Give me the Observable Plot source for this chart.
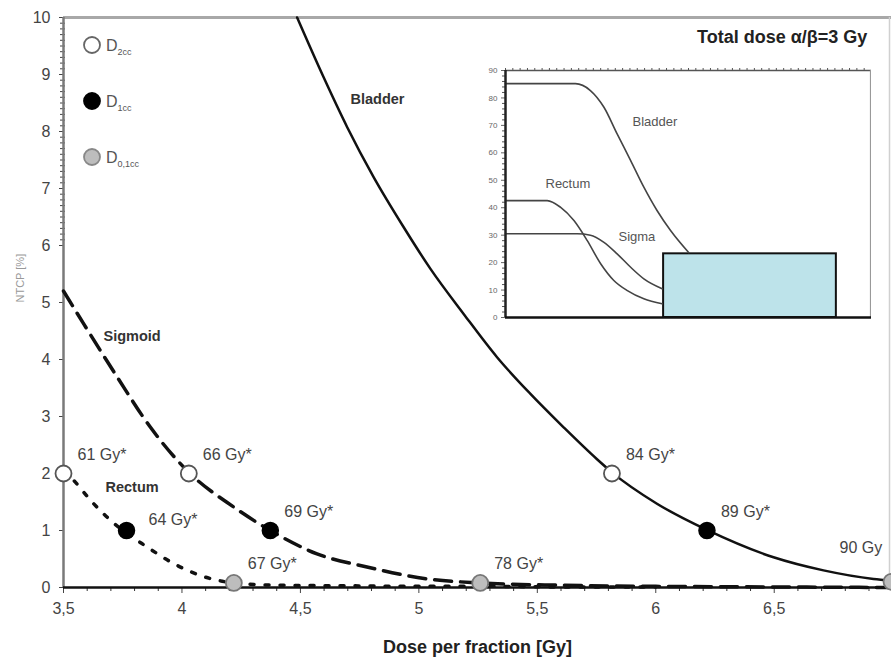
<!DOCTYPE html>
<html>
<head>
<meta charset="utf-8">
<script src="https://cdn.jsdelivr.net/npm/d3@7"></script>
<script src="https://cdn.jsdelivr.net/npm/@observablehq/plot@0.6"></script>
<style>
  html, body { margin: 0; padding: 0; background: white; }
  #wrap { position: relative; width: 891px; height: 662px; overflow: hidden; font-family: "Liberation Sans", Arial, sans-serif; }
  #inset { position: absolute; left: 480px; top: 62px; }
  #legend { position: absolute; left: 0; top: 0; }
  #title { position: absolute; left: 697px; top: 27px; font-weight: bold; font-size: 18px; color: #222; white-space: nowrap; }
</style>
</head>
<body>
<div id="wrap">
  <div id="main"></div>
  <div id="inset"></div>
  <div id="title">Total dose α/β=3 Gy</div>
  <svg id="legend" width="200" height="190"></svg>
</div>
<script>
// ---------- main chart data ----------
const bladderX = [4.486, 4.598, 4.697, 4.809, 4.936, 5.049, 5.189, 5.330, 5.470, 5.611, 5.752, 5.815, 6.005, 6.216, 6.497, 6.708, 6.919, 6.995];
const bladderY = [10.0, 8.95, 8.08, 7.2, 6.32, 5.59, 4.80, 4.04, 3.40, 2.81, 2.25, 2.02, 1.47, 1.01, 0.53, 0.30, 0.15, 0.12];

const sigmoidX = [3.5, 3.586, 3.727, 3.867, 4.029, 4.219, 4.373, 4.570, 4.781, 5.035, 5.259, 5.6, 6.0, 6.5, 6.995];
const sigmoidY = [5.2, 4.62, 3.69, 2.81, 2.02, 1.41, 1.0, 0.59, 0.36, 0.15, 0.08, 0.04, 0.02, 0.01, 0.0];

const rectumX = [3.5, 3.543, 3.614, 3.698, 3.853, 3.965, 4.078, 4.219, 4.4, 4.7, 5.0, 5.3, 5.6, 6.0];
const rectumY = [2.05, 1.88, 1.53, 1.18, 0.71, 0.42, 0.21, 0.08, 0.04, 0.03, 0.02, 0.02, 0.01, 0.01];

// marker points: organ, dose-volume type, x, y, label
const pointOrgan = ["Rectum", "Rectum", "Rectum", "Sigmoid", "Sigmoid", "Sigmoid", "Bladder", "Bladder", "Bladder"];
const pointType  = ["2cc", "1cc", "0,1cc", "2cc", "1cc", "0,1cc", "2cc", "1cc", "0,1cc"];
const pointX     = [3.5, 3.766, 4.219, 4.029, 4.373, 5.259, 5.815, 6.216, 6.995];
const pointY     = [2.0, 1.0, 0.08, 2.0, 1.0, 0.08, 2.0, 1.0, 0.1];
const pointLabel = ["61 Gy*", "64 Gy*", "67 Gy*", "66 Gy*", "69 Gy*", "78 Gy*", "84 Gy*", "89 Gy*", "90 Gy"];

const xTicks = [3.5, 4, 4.5, 5, 5.5, 6, 6.5];
const yTicks = [0, 1, 2, 3, 4, 5, 6, 7, 8, 9, 10];
const legendTypes = ["2cc", "1cc", "0,1cc"];
const xLabel = "Dose per fraction [Gy]";
const yLabel = "NTCP [%]";

// ---------- inset data ----------
const inBladderX = [0, 19.1, 23.2, 26.9, 30.5, 34.2, 37.8, 41.4, 45.1, 50.1];
const inBladderY = [85.2, 85.2, 82.7, 76.6, 66.9, 57.2, 47.5, 39.0, 31.7, 23.6];
const inRectumX = [0, 11.4, 15.0, 18.7, 22.3, 26.0, 29.6, 33.3, 37.8, 42.8];
const inRectumY = [42.6, 42.6, 40.2, 35.3, 28.1, 19.6, 13.5, 9.8, 6.8, 5.0];
const inSigmaX = [0, 19.6, 23.2, 26.9, 30.5, 34.2, 37.8, 42.8];
const inSigmaY = [30.5, 30.5, 30.0, 27.4, 23.2, 18.3, 14.1, 10.5];
const inRectX1 = [43.2], inRectX2 = [90.4], inRectY = [23.2];
const inYTicks = [0, 10, 20, 30, 40, 50, 60, 70, 80, 90];

// ---------- build ----------
const zip = (xs, ys) => xs.map((x, i) => ({x, y: ys[i]}));
const bladder = zip(bladderX, bladderY);
const sigmoid = zip(sigmoidX, sigmoidY);
const rectum = zip(rectumX, rectumY);
const points = pointX.map((x, i) => ({organ: pointOrgan[i], type: pointType[i], x, y: pointY[i], label: pointLabel[i]}));
const fmt = d => String(d).replace(".", ",");
const xMinor = d3.range(35, 70).map(d => d / 10).filter(d => !xTicks.includes(d));
const yMinor = d3.range(60, 100).map(d => d / 10).filter(d => !Number.isInteger(d));

const normalLabels = points.filter(d => d.label !== "64 Gy*" && d.label !== "90 Gy");

const main = Plot.plot({
  width: 891, height: 662,
  marginLeft: 63, marginRight: 0, marginTop: 17, marginBottom: 75,
  x: {domain: [3.5, 6.995]},
  y: {domain: [0, 10]},
  style: {fontFamily: "'Liberation Sans', Arial, sans-serif", background: "white"},
  marks: [
    Plot.ruleY([10], {stroke: "#a8a8a8", strokeWidth: 3}),
    Plot.ruleX([6.995], {stroke: "#d0d0d0", strokeWidth: 1.5, dx: -2}),
    Plot.axisX(xMinor, {tickSize: 4, tickFormat: () => "", label: null, stroke: "#333"}),
    Plot.axisX(xTicks, {tickSize: 6, tickPadding: 9, tickFormat: fmt, label: null, fontSize: 16, color: "#444"}),
    Plot.axisY(yMinor, {tickSize: 5, tickFormat: () => "", label: null, stroke: "#444", dx: 2}),
    Plot.axisY(yTicks, {tickSize: 4, tickPadding: 9, tickFormat: fmt, label: null, fontSize: 16, color: "#444"}),
    Plot.ruleX([3.5], {stroke: "#7a7a7a", strokeWidth: 2.5}),
    Plot.ruleY([0], {stroke: "#111", strokeWidth: 2.5}),
    Plot.line(rectum, {x: "x", y: "y", curve: "monotone-x", stroke: "#111", strokeWidth: 3.5, strokeDasharray: "4,11"}),
    Plot.line(sigmoid, {x: "x", y: "y", curve: "monotone-x", stroke: "#111", strokeWidth: 3.5, strokeDasharray: "17,9"}),
    Plot.line(bladder, {x: "x", y: "y", curve: "monotone-x", stroke: "#111", strokeWidth: 2.5}),
    Plot.dot(points.filter(d => d.type === "2cc"), {x: "x", y: "y", r: 8, fill: "white", stroke: "#555", strokeWidth: 1.8}),
    Plot.dot(points.filter(d => d.type === "1cc"), {x: "x", y: "y", r: 8, fill: "#000", stroke: "#000"}),
    Plot.dot(points.filter(d => d.type === "0,1cc"), {x: "x", y: "y", r: 8, fill: "#bdbdbd", stroke: "#777", strokeWidth: 1.8}),
    Plot.text(normalLabels, {x: "x", y: "y", text: "label", dx: 14, dy: -19, textAnchor: "start", fontSize: 16, fill: "#444"}),
    Plot.text(points.filter(d => d.label === "64 Gy*"), {x: "x", y: "y", text: "label", dx: 22, dy: -11, textAnchor: "start", fontSize: 16, fill: "#444"}),
    Plot.text(points.filter(d => d.label === "90 Gy"), {x: "x", y: "y", text: "label", dx: -52, dy: -34, textAnchor: "start", fontSize: 16, fill: "#444"}),
    Plot.text(["Bladder"], {frameAnchor: "top-left", dx: 287, dy: 76, textAnchor: "start", fontWeight: "bold", fontSize: 14.5, fill: "#333"}),
    Plot.text(["Sigmoid"], {frameAnchor: "top-left", dx: 40, dy: 313, textAnchor: "start", fontWeight: "bold", fontSize: 14.5, fill: "#333"}),
    Plot.text(["Rectum"], {frameAnchor: "top-left", dx: 42, dy: 464, textAnchor: "start", fontWeight: "bold", fontSize: 14.5, fill: "#333"}),
    Plot.text([xLabel], {frameAnchor: "bottom", dy: 65, fontWeight: "bold", fontSize: 18, fill: "#222"}),
    Plot.text([yLabel], {frameAnchor: "left", dx: -43, rotate: -90, fontSize: 11, fill: "#999"})
  ]
});
document.getElementById("main").appendChild(main);

// ---------- inset ----------
const inBladder = zip(inBladderX, inBladderY);
const inRectum = zip(inRectumX, inRectumY);
const inSigma = zip(inSigmaX, inSigmaY);
const inRect = inRectX1.map((x1, i) => ({x1, x2: inRectX2[i], y: inRectY[i]}));
const inMinor = d3.range(0, 91, 2).filter(d => d % 10 !== 0);
const inTop = d3.range(0, 101, 2);

const inset = Plot.plot({
  width: 391, height: 263,
  marginLeft: 25, marginRight: 0, marginTop: 8, marginBottom: 8,
  x: {domain: [0, 100]},
  y: {domain: [0, 90]},
  style: {fontFamily: "'Liberation Sans', Arial, sans-serif", background: "white"},
  marks: [
    Plot.rectY(inRect, {x1: "x1", x2: "x2", y1: 0, y2: "y", fill: "#bde3ea", stroke: "#111", strokeWidth: 2}),
    Plot.line(inBladder, {x: "x", y: "y", curve: "monotone-x", stroke: "#444", strokeWidth: 1.6}),
    Plot.line(inRectum, {x: "x", y: "y", curve: "monotone-x", stroke: "#444", strokeWidth: 1.6}),
    Plot.line(inSigma, {x: "x", y: "y", curve: "monotone-x", stroke: "#444", strokeWidth: 1.6}),
    Plot.ruleY([90], {stroke: "#555", strokeWidth: 1.5}),
    Plot.axisX(inTop, {anchor: "top", tickSize: 3, tickFormat: () => "", label: null, stroke: "#555"}),
    Plot.ruleX([100], {stroke: "#999", strokeWidth: 1.2, dx: -1}),
    Plot.axisY(inMinor, {tickSize: 3, tickFormat: () => "", label: null, stroke: "#555"}),
    Plot.axisY(inYTicks, {tickSize: 4, tickPadding: 4, label: null, fontSize: 8, color: "#666"}),
    Plot.ruleX([0], {stroke: "#222", strokeWidth: 2.5}),
    Plot.ruleY([0], {stroke: "#111", strokeWidth: 2.5}),
    Plot.text(["Bladder"], {frameAnchor: "top-left", dx: 127, dy: 46, textAnchor: "start", fontSize: 13, fill: "#555"}),
    Plot.text(["Rectum"], {frameAnchor: "top-left", dx: 40, dy: 108, textAnchor: "start", fontSize: 13, fill: "#555"}),
    Plot.text(["Sigma"], {frameAnchor: "top-left", dx: 113, dy: 161, textAnchor: "start", fontSize: 13, fill: "#555"})
  ]
});
document.getElementById("inset").appendChild(inset);

// ---------- legend ----------
const legend = d3.select("#legend");
const legendFill = {"2cc": "white", "1cc": "#000", "0,1cc": "#bdbdbd"};
const legendStroke = {"2cc": "#666", "1cc": "#000", "0,1cc": "#888"};
legendTypes.forEach((t, i) => {
  const cy = 45 + i * 56;
  legend.append("circle").attr("cx", 92).attr("cy", cy).attr("r", 8)
    .attr("fill", legendFill[t]).attr("stroke", legendStroke[t]).attr("stroke-width", 1.8);
  const txt = legend.append("text").attr("x", 106).attr("y", cy + 6)
    .attr("font-family", "'Liberation Sans', Arial, sans-serif").attr("font-size", 16).attr("fill", "#555");
  txt.append("tspan").text("D");
  txt.append("tspan").attr("dy", 4).attr("font-size", 9).text(t);
});
</script>
</body>
</html>
